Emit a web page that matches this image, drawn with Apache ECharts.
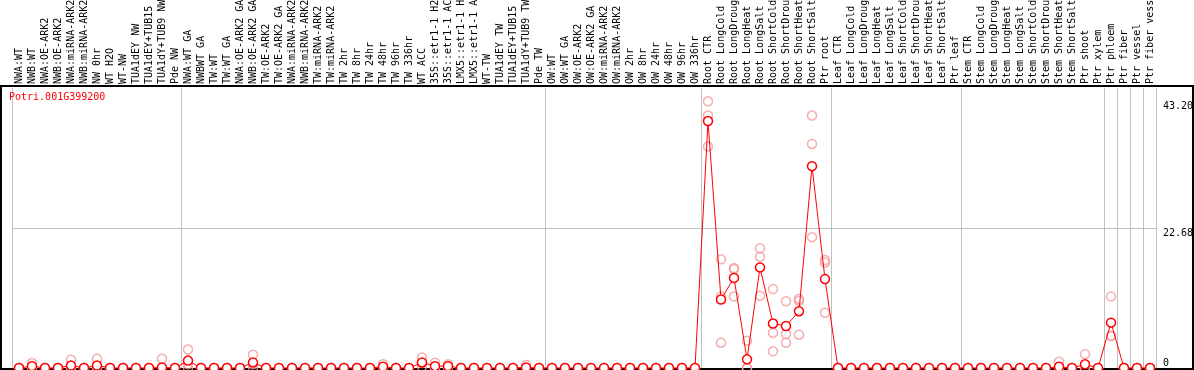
<!DOCTYPE html>
<html>
<head>
<meta charset="utf-8">
<script src="https://cdn.jsdelivr.net/npm/echarts@6/dist/echarts.min.js"></script>
<style>
  html, body { margin: 0; padding: 0; background: #fff; }
  #main { width: 1194px; height: 370px; }
</style>
</head>
<body>
<div id="main"></div>
<script>
// 样品名称（原图已截断为14个字符）
var categories = [
    'NWA:WT', 'NWB:WT', 'NWA:OE-ARK2', 'NWB:OE-ARK2', 'NWA:miRNA-ARK2', 'NWB:miRNA-ARK2', 'NW 0hr', 'WT H2O', 'WT-NW',
    'TUA1dEY NW', 'TUA1dEY+TUB15', 'TUA1dY+TUB9 NW', 'Pde NW',
    'NWA:WT GA', 'NWBWT GA', 'TW:WT', 'TW:WT GA', 'NWA:OE-ARK2 GA', 'NWB:OE-ARK2 GA', 'TW:OE-ARK2', 'TW:OE-ARK2 GA',
    'NWA:miRNA-ARK2', 'NWB:miRNA-ARK2', 'TW:miRNA-ARK2', 'TW:miRNA-ARK2', 'TW 2hr', 'TW 8hr', 'TW 24hr', 'TW 48hr',
    'TW 96hr', 'TW 336hr', 'WT ACC', '35S::etr1-1 H2', '35S::etr1-1 AC', 'LMX5::etr1-1 H', 'LMX5::etr1-1 A',
    'WT-TW', 'TUA1dEY TW', 'TUA1dEY+TUB15', 'TUA1dY+TUB9 TW', 'Pde TW',
    'OW:WT', 'OW:WT GA', 'OW:OE-ARK2', 'OW:OE-ARK2 GA', 'OW:miRNA-ARK2', 'OW:miRNA-ARK2', 'OW 2hr', 'OW 8hr',
    'OW 24hr', 'OW 48hr', 'OW 96hr', 'OW 336hr',
    'Root CTR', 'Root LongCold', 'Root LongDroug', 'Root LongHeat', 'Root LongSalt', 'Root ShortCold',
    'Root ShortDrou', 'Root ShortHeat', 'Root ShortSalt', 'Ptr root',
    'Leaf CTR', 'Leaf LongCold', 'Leaf LongDroug', 'Leaf LongHeat', 'Leaf LongSalt', 'Leaf ShortCold',
    'Leaf ShortDrou', 'Leaf ShortHeat', 'Leaf ShortSalt', 'Ptr leaf',
    'Stem CTR', 'Stem LongCold', 'Stem LongDroug', 'Stem LongHeat', 'Stem LongSalt', 'Stem ShortCold',
    'Stem ShortDrou', 'Stem ShortHeat', 'Stem ShortSalt', 'Ptr shoot', 'Ptr xylem',
    'Ptr phloem', 'Ptr fiber', 'Ptr vessel', 'Ptr fiber vess'
];

// 分组起始位置（灰色竖线）
var groupStarts = [0, 13, 41, 53, 63, 73, 84, 85, 86, 87];

// 平均值
var meanValues = [
    0, 0.3, 0, 0, 0.4, 0, 0.4, 0, 0, 0, 0, 0.1, 0,
    1.2, 0, 0, 0, 0, 0.9, 0, 0, 0, 0, 0, 0, 0, 0, 0, 0.2, 0, 0, 0.9, 0.3, 0.3, 0, 0, 0, 0, 0, 0.1, 0,
    0, 0, 0, 0, 0, 0, 0, 0, 0, 0, 0, 0,
    40.0, 11.1, 14.6, 1.4, 16.3, 7.2, 6.8, 9.2, 32.7, 14.4,
    0, 0, 0, 0, 0, 0, 0, 0, 0, 0,
    0, 0, 0, 0, 0, 0, 0, 0.2, 0, 0.6, 0,
    7.35, 0, 0, 0
];

// 三次重复
var rep1 = [
    0, 0.8, 0, 0, 1.35, 0, 1.5, 0, 0, 0, 0, 1.5, 0,
    3.0, 0, 0, 0, 0, 2.15, 0, 0, 0, 0, 0, 0, 0, 0, 0, 0.6, 0, 0, 1.7, 0.85, 0.6, 0, 0, 0, 0, 0, 0.5, 0,
    0, 0, 0, 0, 0, 0, 0, 0, 0, 0, 0, 0,
    43.2, 17.6, 16.2, 4.4, 19.4, 12.8, 10.8, 11.2, 40.9, 17.5,
    0, 0, 0, 0, 0, 0, 0, 0, 0, 0,
    0, 0, 0, 0, 0, 0, 0, 1.0, 0, 2.25, 0,
    11.6, 0, 0, 0
];
var rep2 = [
    0, 0, 0, 0, 0, 0, 0, 0, 0, 0, 0, 0, 0,
    0.6, 0, 0, 0, 0, 0.6, 0, 0, 0, 0, 0, 0, 0, 0, 0, 0, 0, 0, 0.8, 0, 0.3, 0, 0, 0, 0, 0, 0, 0,
    0, 0, 0, 0, 0, 0, 0, 0, 0, 0, 0, 0,
    40.9, 11.6, 16.0, 0, 18.0, 5.7, 5.5, 10.9, 36.3, 17.1,
    0, 0, 0, 0, 0, 0, 0, 0, 0, 0,
    0, 0, 0, 0, 0, 0, 0, 0, 0, 0, 0,
    5.2, 0, 0, 0
];
var rep3 = [
    0, 0, 0, 0, 0, 0, 0, 0, 0, 0, 0, 0, 0,
    0, 0, 0, 0, 0, 0, 0, 0, 0, 0, 0, 0, 0, 0, 0, 0, 0, 0, 0.2, 0, 0, 0, 0, 0, 0, 0, 0, 0,
    0, 0, 0, 0, 0, 0, 0, 0, 0, 0, 0, 0,
    35.9, 4.1, 11.6, 0, 11.7, 2.7, 4.1, 5.4, 21.2, 8.95,
    0, 0, 0, 0, 0, 0, 0, 0, 0, 0,
    0, 0, 0, 0, 0, 0, 0, 0, 0, 0, 0,
    5.2, 0, 0, 0
];

var yLabels = [22.68, 43.2];
var yMax = 45.36;

function isGroupStart(index) {
    return groupStarts.indexOf(index) >= 0;
}

function buildReplicates() {
    var out = [];
    [rep1, rep2, rep3].forEach(function (rep) {
        for (var i = 0; i < rep.length; i++) {
            out.push([i, rep[i]]);
        }
    });
    return out;
}

var monoFont = 'DejaVu Sans Mono';

var option = {
    animation: false,
    textStyle: { fontFamily: monoFont },
    title: {
        text: 'Potri.001G399200',
        left: 9,
        top: 92,
        padding: 0,
        textStyle: {
            color: '#ff0000',
            fontSize: 10,
            fontWeight: 'normal',
            fontFamily: monoFont
        }
    },
    grid: {
        left: 12.5,
        right: 37.5,
        top: 88,
        bottom: 2,
        outerBoundsMode: 'none'
    },
    graphic: [{
        type: 'rect',
        z: 0,
        silent: true,
        shape: { x: 1, y: 86, width: 1192, height: 283 },
        style: { fill: 'none', stroke: '#000', lineWidth: 2 }
    }],
    xAxis: {
        type: 'category',
        position: 'top',
        data: categories,
        boundaryGap: true,
        axisLine: { show: false },
        axisTick: {
            show: true,
            length: 88,
            interval: isGroupStart,
            lineStyle: { color: '#c0c0c0' }
        },
        splitLine: {
            show: true,
            interval: isGroupStart,
            lineStyle: { color: '#c0c0c0' }
        },
        axisLabel: {
            interval: 0,
            rotate: 90,
            margin: 4,
            fontSize: 10,
            fontFamily: monoFont,
            color: '#000'
        }
    },
    yAxis: [{
        type: 'value',
        position: 'right',
        offset: 36.5,
        min: 0,
        max: yMax,
        interval: 22.68,
        axisLine: { show: false },
        axisTick: { show: false },
        splitLine: {
            show: true,
            showMinLine: false,
            showMaxLine: false,
            lineStyle: { color: '#c0c0c0' }
        },
        axisLabel: {
            inside: true,
            margin: 30,
            align: 'left',
            verticalAlign: 'top',
            customValues: yLabels,
            formatter: function (v) { return v.toFixed(2); },
            fontSize: 10,
            fontFamily: monoFont,
            color: '#000'
        }
    }, {
        type: 'value',
        position: 'right',
        offset: 36.5,
        min: 0,
        max: yMax,
        axisLine: { show: false },
        axisTick: { show: false },
        splitLine: { show: false },
        axisLabel: {
            inside: true,
            margin: 30,
            align: 'left',
            verticalAlign: 'bottom',
            customValues: [0],
            formatter: function (v) { return String(v); },
            fontSize: 10,
            fontFamily: monoFont,
            color: '#000'
        }
    }],
    series: [
        {
            type: 'scatter',
            data: buildReplicates(),
            symbol: 'circle',
            symbolSize: 9,
            z: 3,
            itemStyle: {
                color: 'rgba(0,0,0,0)',
                borderColor: '#f29a9a',
                borderWidth: 1.5
            }
        },
        {
            type: 'line',
            data: meanValues,
            symbol: 'circle',
            symbolSize: 9,
            z: 4,
            lineStyle: { color: '#ff0000', width: 1 },
            itemStyle: {
                color: '#fff',
                borderColor: '#ff0000',
                borderWidth: 1.5
            }
        }
    ]
};

var chart = echarts.init(document.getElementById('main'));
chart.setOption(option);
</script>
</body>
</html>
